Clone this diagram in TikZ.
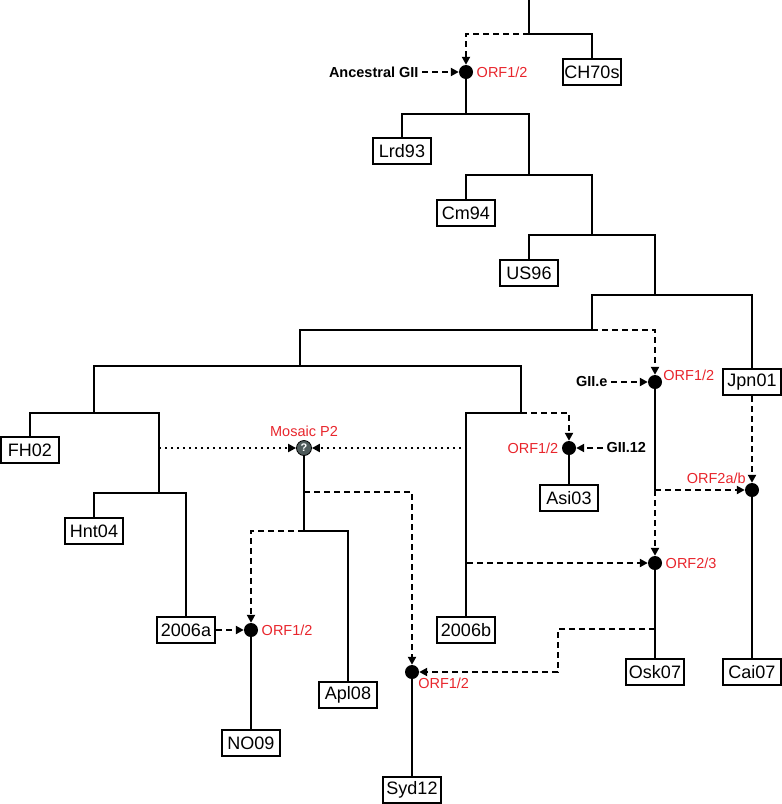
\documentclass[tikz,border=0pt]{standalone}
\usepackage{fontspec}
\setmainfont{Liberation Sans}
\usetikzlibrary{arrows.meta,positioning,calc}
\definecolor{orfred}{RGB}{232,37,44}
\definecolor{mosgrey}{RGB}{78,90,90}

\begin{document}
\begin{tikzpicture}[
  x=1pt, y=-1pt,
  strain/.style={draw, line width=2pt, fill=white, minimum width=58pt, minimum height=26pt, inner sep=1pt, font=\fontsize{18}{20}\selectfont},
  event/.style={circle, fill=black, minimum size=14pt, inner sep=0pt},
  mosaic/.style={circle, draw=black, line width=0.8pt, fill=mosgrey, text=white, minimum size=15pt, inner sep=0pt, font=\bfseries\fontsize{11}{11}\selectfont},
  orf/.style={text=orfred, font=\fontsize{14.5}{17}\selectfont},
  donor/.style={font=\bfseries\fontsize{14.5}{17}\selectfont},
  branch/.style={line width=2pt},
  recomb/.style={line width=2pt, dash pattern=on 6pt off 4pt, -{Triangle[length=8pt,width=8pt]}},
  mosaicarrow/.style={line width=2pt, dash pattern=on 2pt off 4pt, -{Triangle[length=8pt,width=8pt]}}
]
\useasboundingbox (0,0) rectangle (782,804);

% branch points
\coordinate (root) at (529,0);
\coordinate (j0) at (529,34);
\coordinate (j1) at (466,114);
\coordinate (j2) at (529,175);
\coordinate (j3) at (592,235);
\coordinate (j4) at (655,295);
\coordinate (j5) at (592,330);
\coordinate (j6) at (300,366);
\coordinate (j7) at (94,413);
\coordinate (j8) at (521,413);
\coordinate (j9) at (159,493);
\coordinate (j10) at (304,531);
\coordinate (jE) at (655,490);
\coordinate (mosL) at (159,448);
\coordinate (mosR) at (467,448);
\coordinate (mosS) at (304,492);
\coordinate (b6S) at (467,563);
\coordinate (oskS) at (655,629);

% strains
\node[strain] (ch70) at (592,72) {CH70s};
\node[strain] (lrd) at (402,151) {Lrd93};
\node[strain] (cm) at (466,213) {Cm94};
\node[strain] (us) at (529,273) {US96};
\node[strain] (jpn) at (752,382) {Jpn01};
\node[strain] (fh) at (30,450) {FH02};
\node[strain] (hnt) at (94,531) {Hnt04};
\node[strain] (asi) at (569,498) {Asi03};
\node[strain] (b2006a) at (186,630) {2006a};
\node[strain] (b2006b) at (466,630) {2006b};
\node[strain] (osk) at (655,672) {Osk07};
\node[strain] (cai) at (752,672) {Cai07};
\node[strain] (apl) at (348,695) {Apl08};
\node[strain] (no09) at (251,743) {NO09};
\node[strain] (syd) at (412,790) {Syd12};

% recombination events
\node[event, label={[orf]right:ORF1/2}] (d1) at (466,72) {};
\node[event, label={[orf,anchor=south west,inner sep=1pt]right:ORF1/2}] (dGe) at (655,382) {};
\node[event, label={[orf]left:ORF1/2}] (dAsi) at (569,448) {};
\node[event, label={[orf,anchor=south east,inner sep=1pt]north west:ORF2a/b}] (d2ab) at (752,490) {};
\node[event, label={[orf]right:ORF2/3}] (d23) at (655,563) {};
\node[event, label={[orf]right:ORF1/2}] (dNO) at (251,630) {};
\node[event, label={[orf,anchor=north west,inner sep=1pt]south east:ORF1/2}] (dSyd) at (412,672) {};
\node[mosaic, label={[orf]above:Mosaic P2}] (mos) at (304,448) {?};

\node[donor, anchor=east] (anc) at (422,72) {Ancestral GII};
\node[donor, anchor=east] (gIIe) at (611,382) {GII.e};
\node[donor, anchor=west] (gII12) at (603,448) {GII.12};

% tree
\draw[branch] (root) -- (j0) -| (ch70);
\draw[branch] (d1) -- (j1);
\draw[branch] (lrd) |- (j1) -| (j2);
\draw[branch] (cm) |- (j2) -| (j3);
\draw[branch] (us) |- (j3) -| (j4);
\draw[branch] (j5) |- (j4) -| (jpn);
\draw[branch] (j6) |- (j5);
\draw[branch] (j7) |- (j6) -| (j8) -| (b2006b);
\draw[branch] (fh) |- (j7) -| (j9);
\draw[branch] (hnt) |- (j9) -| (b2006a);
\draw[branch] (mos) -- (j10) -| (apl);
\draw[branch] (dNO) -- (no09);
\draw[branch] (dSyd) -- (syd);
\draw[branch] (dAsi) -- (asi);
\draw[branch] (dGe) -- (jE);
\draw[branch] (d23) -- (osk);
\draw[branch] (d2ab) -- (cai);

% recombinations
\draw[recomb] (j0) -| (d1);
\draw[recomb] (anc) -- (d1);
\draw[recomb] (j5) -| (dGe);
\draw[recomb] (gIIe) -- (dGe);
\draw[recomb] (j8) -| (dAsi);
\draw[recomb] (gII12) -- (dAsi);
\draw[recomb] (jE) -- (d23);
\draw[recomb] (jE) -- (d2ab);
\draw[recomb] (jpn) -- (d2ab);
\draw[recomb] (b6S) -- (d23);
\draw[recomb] (j10) -| (dNO);
\draw[recomb] (b2006a) -- (dNO);
\draw[recomb] (mosS) -| (dSyd);
\draw[recomb] (oskS) -- ++(-97,0) |- (dSyd);
\draw[mosaicarrow] (mosL) -- (mos);
\draw[mosaicarrow] (mosR) -- (mos);
\end{tikzpicture}
\end{document}
